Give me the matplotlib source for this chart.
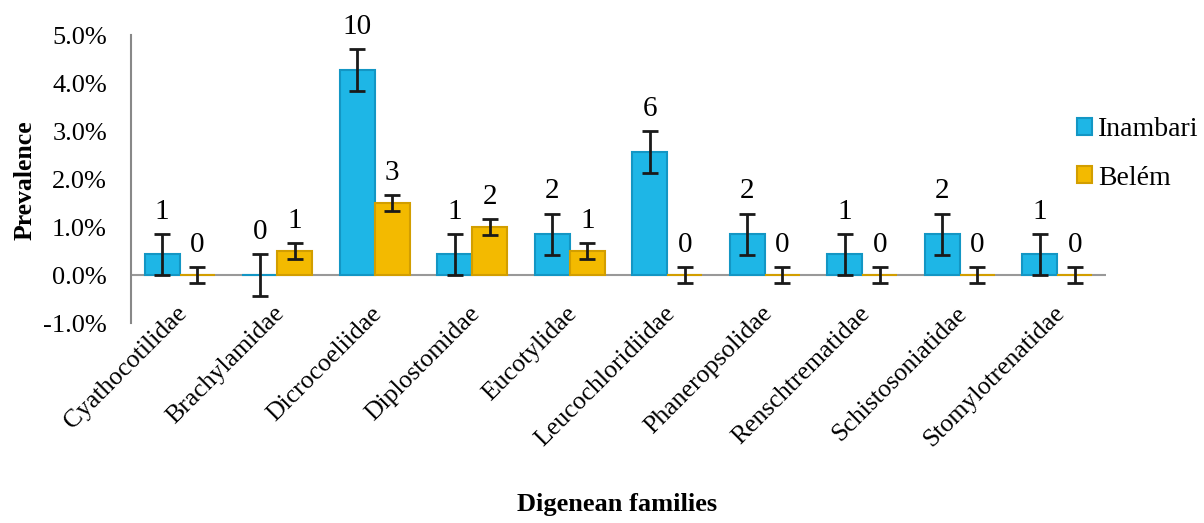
import matplotlib
matplotlib.use("Agg")
import matplotlib.pyplot as plt
import numpy as np
from matplotlib.transforms import ScaledTranslation

families = ["Cyathocotilidae", "Brachylamidae", "Dicrocoeliidae", "Diplostomidae",
            "Eucotylidae", "Leucochloridiidae", "Phaneropsolidae", "Renschtrematidae",
            "Schistosoniatidae", "Stomylotrenatidae"]
inambari_prev = [0.43, 0.0, 4.27, 0.43, 0.85, 2.56, 0.85, 0.43, 0.85, 0.43]
belem_prev = [0.0, 0.5, 1.5, 1.0, 0.5, 0.0, 0.0, 0.0, 0.0, 0.0]
inambari_err = [0.42, 0.43, 0.43, 0.42, 0.43, 0.43, 0.43, 0.42, 0.43, 0.42]
belem_err = [0.17, 0.17, 0.17, 0.17, 0.17, 0.17, 0.17, 0.17, 0.17, 0.17]
inambari_n = [1, 0, 10, 1, 2, 6, 2, 1, 2, 1]
belem_n = [0, 1, 3, 2, 1, 0, 0, 0, 0, 0]
yticks = [-1, 0, 1, 2, 3, 4, 5]

plt.rcParams['font.family'] = ['Liberation Serif', 'DejaVu Serif']

fig = plt.figure(figsize=(12.04, 5.23), dpi=100)
ax = fig.add_axes([131/1204, 1-323/523, (1106-131)/1204, (323-35)/523])

x = np.arange(len(families))
w = 0.36
blue = "#1EB6E6"
blue_edge = "#1396C4"
yellow = "#F3BA00"
yellow_edge = "#D29E00"

ax.bar(x - w/2, inambari_prev, w, color=blue, edgecolor=blue_edge, linewidth=1.5, label="Inambari", zorder=2)
ax.bar(x + w/2, belem_prev, w, color=yellow, edgecolor=yellow_edge, linewidth=1.5, label="Belém", zorder=2)
ax.errorbar(x - w/2, inambari_prev, yerr=inambari_err, fmt='none', ecolor='#1a1a1a',
            elinewidth=2, capsize=6, capthick=2, zorder=3)
ax.errorbar(x + w/2, belem_prev, yerr=belem_err, fmt='none', ecolor='#1a1a1a',
            elinewidth=2, capsize=6, capthick=2, zorder=3)

for xi, v, e, n in zip(x - w/2, inambari_prev, inambari_err, inambari_n):
    ax.annotate(str(n), (xi, v + e), xytext=(0, 11), textcoords='offset points',
                ha='center', va='baseline', fontsize=21)
for xi, v, e, n in zip(x + w/2, belem_prev, belem_err, belem_n):
    ax.annotate(str(n), (xi, v + e), xytext=(0, 11), textcoords='offset points',
                ha='center', va='baseline', fontsize=21)

ax.axhline(0, color='#999999', linewidth=1.5, zorder=1)
ax.set_xlim(-0.5, len(families) - 0.5)
ax.set_ylim(-1, 5)
ax.set_yticks(yticks)
ax.set_yticklabels([f"{t:.1f}%" for t in yticks], fontsize=19)
ax.tick_params(axis='y', length=0, pad=24 * 72 / 100)
ax.set_xticks(x)
ax.set_xticklabels(families, rotation=45, ha='right', rotation_mode='anchor', fontsize=18.5)
ax.tick_params(axis='x', length=0, pad=0)
off = ScaledTranslation(0.04, 0.13, fig.dpi_scale_trans)
for lab in ax.get_xticklabels():
    lab.set_transform(lab.get_transform() + off)
    lab.set_va('center')

for s in ['top', 'right', 'bottom']:
    ax.spines[s].set_visible(False)
ax.spines['left'].set_color('#888888')
ax.spines['left'].set_linewidth(1.5)

ax.legend(loc='upper left', bbox_to_anchor=(1077/1204, 1-117/523), bbox_transform=fig.transFigure,
          frameon=False, fontsize=20, handlelength=0.55, handleheight=0.55,
          handletextpad=0.2, labelspacing=0.85, borderaxespad=0, borderpad=0)

fig.text(617/1204, 1-505/523, "Digenean families", ha='center', va='center',
         fontsize=19, fontweight='bold')
fig.text(25/1204, 1-180/523, "Prevalence", ha='center', va='center', rotation=90,
         fontsize=18.5, fontweight='bold')

fig.savefig("out.png", dpi=100, facecolor='white')
